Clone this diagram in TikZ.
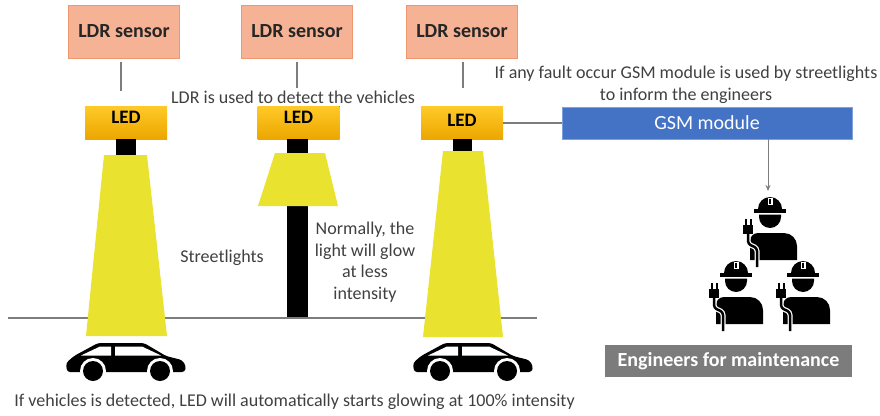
\documentclass[tikz,border=0pt]{standalone}
\usepackage{fontspec}
\setmainfont{Carlito}
\usetikzlibrary{arrows.meta}

\definecolor{sensorfill}{RGB}{246,178,148}
\definecolor{sensorline}{RGB}{238,150,112}
\definecolor{ledtop}{RGB}{255,202,40}
\definecolor{ledbot}{RGB}{236,166,0}
\definecolor{beam}{RGB}{233,226,46}
\definecolor{gsmblue}{RGB}{68,114,196}
\definecolor{gsmline}{RGB}{125,160,222}
\definecolor{wire}{RGB}{125,125,125}
\definecolor{note}{RGB}{64,64,64}
\definecolor{tagfill}{RGB}{124,124,124}

% worker with helmet and plug, origin at the helmet brim
\newcommand{\worker}[1]{%
  \begin{scope}[shift={(#1)}]
    \fill (-12,-4) arc (180:360:12) -- cycle;
    \fill (-16,-4) rectangle (16,0);
    \fill[white] (-2.5,-15.5) rectangle (2.5,-8);
    \fill (-1,-14) rectangle (1,-9);
    \fill (-11,1.5) -- (11,1.5) -- (11,4) arc (0:180:11) -- cycle;
    \fill (-20,47) [rounded corners=8] -- (-20,20) [rounded corners=13] -- (27,20) [sharp corners] -- (27,47) -- cycle;
    \fill (-27,12) rectangle (-17,21);
    \fill (-25.5,6) rectangle (-23.5,12);
    \fill (-20.5,6) rectangle (-18.5,12);
    \draw[white, line width=5pt, rounded corners=3] (-22,21) -- (-22,31) -- (-13,35) -- (-13,54);
    \draw[line width=2.5pt, rounded corners=3] (-22,20) -- (-22,31) -- (-13,35) -- (-13,54);
  \end{scope}}

% car seen from the side, origin at the top left
\newcommand{\car}[1]{%
  \begin{scope}[shift={(#1)}]
    \fill[rounded corners=3] (1,29) -- (0,20) -- (8,13) -- (32,0) -- (78,0) -- (100,13)
      -- (116,17) -- (120,23) -- (119,29) -- cycle;
    \fill[white] (15,12.5) -- (34,3.5) -- (45,3.5) -- (45,12.5) -- cycle;
    \fill[white] (49,3.5) -- (76,3.5) -- (95,12.5) -- (49,12.5) -- cycle;
    \foreach \wx in {27,94} {
      \fill[white] (\wx,28) circle (13);
      \fill (\wx,28) circle (10);
    }
  \end{scope}}

\begin{document}
\begin{tikzpicture}[x=1pt, y=-1pt, font=\fontsize{18}{21.5}\selectfont,
    sensor/.style={draw=sensorline, fill=sensorfill, line width=0.8pt, inner sep=0pt,
      minimum width=111pt, minimum height=53pt, font=\fontsize{20}{22}\selectfont\bfseries,
      text=black!85},
    led/.style={fill, top color=ledtop, bottom color=ledbot, inner sep=0pt,
      minimum width=82pt, minimum height=33pt, text height=13pt, text depth=11pt,
      font=\fontsize{19}{22}\selectfont\bfseries},
    link/.style={wire, line width=1.2pt}]
  \useasboundingbox (0,0) rectangle (880,415);

  % ground
  \draw[wire, line width=1.3pt] (8,318) -- (537,318);

  % sensors and lamp heads
  \node[sensor] (s1) at (124,31.5) {LDR sensor};
  \node[sensor] (s2) at (297,31.5) {LDR sensor};
  \node[sensor] (s3) at (462,31.5) {LDR sensor};
  \node[led] (led1) at (126,122.5) {LED};
  \node[led] (led2) at (298.5,122.5) {LED};
  \node[led, text depth=7pt] (led3) at (462,123) {LED};

  \draw[link, shorten <=4pt, shorten >=15pt] ([xshift=-3pt]s1.south) -- ([xshift=-3pt]s1.south |- led1.north);
  \draw[link, shorten <=4pt, shorten >=18pt] (s2.south) -- (s2.south |- led2.north);
  \draw[link, shorten <=4pt, shorten >=18pt] ([xshift=1pt]s3.south) -- ([xshift=1pt]s3.south |- led3.north);

  % left lamp, full beam
  \fill (116,139) rectangle (136,155);
  \fill[beam] (104,155) -- (147,155) -- (167,336) -- (86,336) -- cycle;
  % middle lamp, dimmed
  \fill (287,139) rectangle (308,317);
  \fill[beam] (275,153) -- (325,153) -- (338,206) -- (258,206) -- cycle;
  % right lamp, full beam
  \fill (453,139) rectangle (472,151);
  \fill[beam] (443,151) -- (483,151) -- (503,337) -- (423,337) -- cycle;

  \car{66,343}
  \car{413,343}

  \node[note] (ldr) at (293,97) {LDR is used to detect the vehicles};
  \node[note] (lamps) at (222,258) {Streetlights};
  \node[note, align=center] (dim) at (365,262) {Normally, the\\light will glow\\at less\\intensity};
  \node[note] (full) at (294.5,402) {If vehicles is detected, LED will automatically starts glowing at 100\% intensity};

  % gsm link
  \node[draw=gsmline, fill=gsmblue, line width=0.8pt, minimum width=290pt, minimum height=32pt,
    inner sep=0pt, text=white, font=\fontsize{20}{22}\selectfont] (gsm) at (707,123) {GSM module};
  \node[note, align=center] (fault) at (686,85) {If any fault occur GSM module is used by streetlights\\to inform the engineers};
  \draw[link] (led3) -- (gsm);

  \worker{770,213}
  \worker{736,277}
  \worker{803,277}
  \coordinate (eng) at (768,191);
  \draw[link, line width=1pt, -{Stealth[length=6pt, width=5pt]}] (gsm.south -| eng) -- (eng);

  \node[fill=tagfill, minimum width=247pt, minimum height=32pt, inner sep=0pt, text=white,
    font=\fontsize{20}{22}\selectfont\bfseries] (tag) at (728.5,361) {Engineers for maintenance};
\end{tikzpicture}
\end{document}
